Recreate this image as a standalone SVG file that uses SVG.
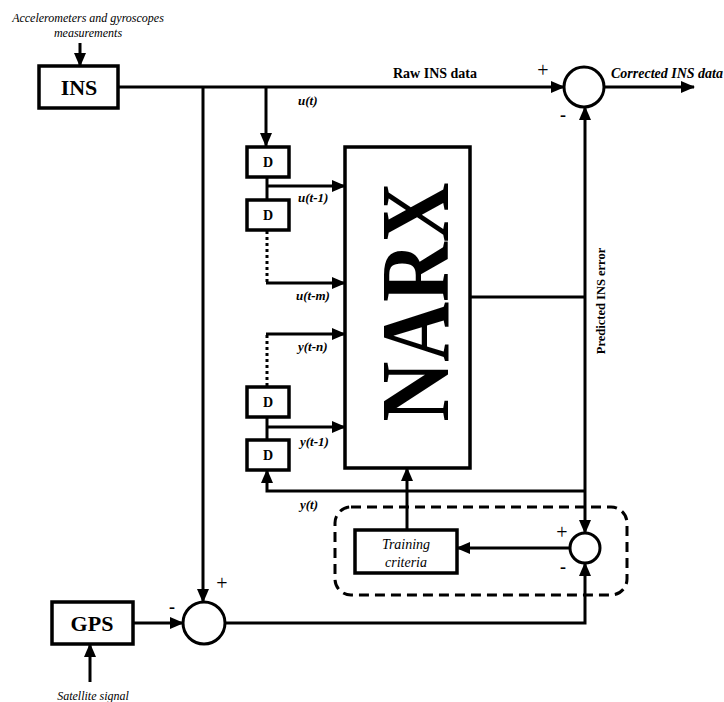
<svg xmlns="http://www.w3.org/2000/svg" width="724" height="702" viewBox="0 0 724 702">
<style>
.box{fill:#fff;stroke:#000;stroke-width:3.5}
.sum{fill:#fff;stroke:#000;stroke-width:3}
.ln{fill:none;stroke:#000;stroke-width:3}
.ar{fill:none;stroke:#000;stroke-width:3;marker-end:url(#ah)}
.dot{fill:none;stroke:#000;stroke-width:3;stroke-dasharray:3 3}
.serif{font-family:"Liberation Serif","Times New Roman",serif;fill:#000}
.b{font-weight:bold}
.i{font-style:italic}
.lbl{font-family:"Liberation Serif",serif;font-weight:bold;font-style:italic;font-size:13px;fill:#000}
</style>
<defs>
<marker id="ah" markerUnits="userSpaceOnUse" markerWidth="14" markerHeight="12" viewBox="0 0 14 12" refX="13" refY="6" orient="auto">
<path d="M0,0 L14,6 L0,12 Z" fill="#000"/>
</marker>
</defs>
<rect x="0" y="0" width="724" height="702" fill="#fff"/>

<g id="connectors">
<line class="ar" x1="80" y1="43" x2="80" y2="66"/>
<line class="ar" x1="118" y1="87" x2="564" y2="87"/>
<line class="ar" x1="604" y1="87" x2="694" y2="87"/>
<line class="ar" x1="203" y1="87" x2="203" y2="602"/>
<line class="ar" x1="266" y1="87" x2="266" y2="146"/>
<line class="ln" x1="267" y1="177" x2="267" y2="200"/>
<line class="ar" x1="267" y1="186" x2="345" y2="186"/>
<line class="dot" x1="267" y1="231" x2="267" y2="282"/>
<line class="ar" x1="266" y1="283" x2="345" y2="283"/>
<line class="dot" x1="267" y1="386" x2="267" y2="335"/>
<line class="ar" x1="266" y1="334" x2="345" y2="334"/>
<line class="ln" x1="267" y1="417" x2="267" y2="440"/>
<line class="ar" x1="267" y1="427" x2="345" y2="427"/>
<polyline class="ar" points="585,491 267,491 267,470"/>
<line class="ln" x1="470" y1="297" x2="585" y2="297"/>
<line class="ar" x1="585" y1="297" x2="585" y2="107"/>
<line class="ar" x1="585" y1="297" x2="585" y2="533"/>
<line class="ar" x1="570" y1="548" x2="457" y2="548"/>
<line class="ar" x1="407" y1="530" x2="407" y2="468"/>
<line class="ar" x1="133" y1="623" x2="183" y2="623"/>
<polyline class="ar" points="225,623 585,623 585,563"/>
<line class="ar" x1="90" y1="682" x2="90" y2="644"/>
</g>

<g id="training-group">
<rect x="335" y="507" width="292" height="88" rx="16" fill="none" stroke="#000" stroke-width="3" stroke-dasharray="10 6"/>
</g>

<g id="ins">
<rect class="box" x="39" y="66" width="79" height="42"/>
<text class="serif b" x="79" y="95" font-size="22" text-anchor="middle">INS</text>
</g>
<g id="gps">
<rect class="box" x="52" y="602" width="81" height="42"/>
<text class="serif b" x="92" y="631" font-size="22" text-anchor="middle">GPS</text>
</g>
<g id="narx">
<rect class="box" x="345" y="147" width="125" height="321"/>
<text class="serif b" transform="translate(448,302) rotate(-90)" x="0" y="0" font-size="98" text-anchor="middle" textLength="239" lengthAdjust="spacingAndGlyphs">NARX</text>
</g>
<g id="d1"><rect class="box" x="247" y="147" width="42" height="30"/><text class="serif b" x="268" y="167" font-size="14" text-anchor="middle">D</text></g>
<g id="d2"><rect class="box" x="247" y="200" width="42" height="30"/><text class="serif b" x="268" y="220" font-size="14" text-anchor="middle">D</text></g>
<g id="d3"><rect class="box" x="247" y="387" width="42" height="30"/><text class="serif b" x="268" y="407" font-size="14" text-anchor="middle">D</text></g>
<g id="d4"><rect class="box" x="247" y="440" width="42" height="30"/><text class="serif b" x="268" y="460" font-size="14" text-anchor="middle">D</text></g>
<g id="training">
<rect class="box" x="355" y="530" width="102" height="43"/>
<text class="serif i" x="406" y="549" font-size="14" text-anchor="middle">Training</text>
<text class="serif i" x="406" y="567" font-size="14" text-anchor="middle">criteria</text>
</g>
<g id="sum-top"><circle class="sum" cx="584" cy="87" r="20"/></g>
<g id="sum-train"><circle class="sum" cx="585" cy="548" r="15"/></g>
<g id="sum-gps"><circle class="sum" cx="204" cy="623" r="21"/></g>

<g id="labels">
<text class="serif i" x="88" y="22" font-size="12" text-anchor="middle">Accelerometers and gyroscopes</text>
<text class="serif i" x="88" y="37" font-size="12" text-anchor="middle">measurements</text>
<text class="serif b" x="435" y="78" font-size="14" text-anchor="middle">Raw INS data</text>
<text class="serif b i" x="611" y="78" font-size="14">Corrected INS data</text>
<text class="lbl" x="298" y="105">u(t)</text>
<text class="lbl" x="298" y="202">u(t-1)</text>
<text class="lbl" x="296" y="300">u(t-m)</text>
<text class="lbl" x="298" y="351">y(t-n)</text>
<text class="lbl" x="300" y="446">y(t-1)</text>
<text class="lbl" x="300" y="509">y(t)</text>
<text class="serif b" transform="translate(605,301) rotate(-90)" font-size="12.5" text-anchor="middle">Predicted INS error</text>
<text class="serif" x="543" y="77" font-size="20" text-anchor="middle">+</text>
<text class="serif b" x="563" y="121" font-size="18" text-anchor="middle">-</text>
<text class="serif" x="562" y="539" font-size="20" text-anchor="middle">+</text>
<text class="serif b" x="563" y="573" font-size="18" text-anchor="middle">-</text>
<text class="serif" x="222" y="590" font-size="20" text-anchor="middle">+</text>
<text class="serif b" x="172" y="613" font-size="18" text-anchor="middle">-</text>
<text class="serif i" x="93" y="700" font-size="12" text-anchor="middle">Satellite signal</text>
</g>
</svg>
